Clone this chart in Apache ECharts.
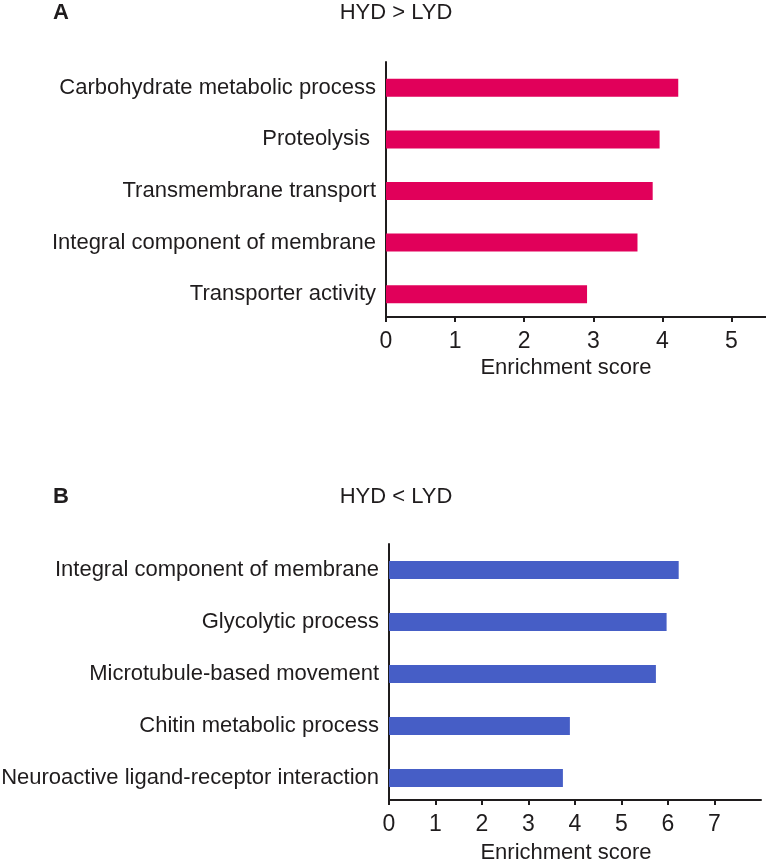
<!DOCTYPE html>
<html>
<head>
<meta charset="utf-8">
<script src="https://cdn.jsdelivr.net/npm/echarts@6/dist/echarts.min.js"></script>
<style>
html,body{margin:0;padding:0;background:#fff;}
#chart{width:766px;height:861px;}
</style>
</head>
<body>
<div id="chart"></div>
<script>
const catsA = ['Carbohydrate metabolic process', 'Proteolysis ', 'Transmembrane transport', 'Integral component of membrane', 'Transporter activity'];
const valsA = [4.23, 3.96, 3.86, 3.64, 2.91];
const ticksA = [0, 1, 2, 3, 4, 5];

const catsB = ['Integral component of membrane', 'Glycolytic process', 'Microtubule-based movement', 'Chitin metabolic process', 'Neuroactive ligand-receptor interaction'];
const valsB = [6.23, 5.97, 5.74, 3.89, 3.74];
const ticksB = [0, 1, 2, 3, 4, 5, 6, 7];

const titleA = 'HYD > LYD';
const titleB = 'HYD < LYD';
const axisName = 'Enrichment score';

const FONT = "'Liberation Sans', Arial, sans-serif";
const INK = '#1f1c1d';
const colorA = '#e1005a';
const colorB = '#465ec6';

const chart = echarts.init(document.getElementById('chart'), null, {renderer: 'canvas'});

function xAx(gi, max, ticks, offset, margin) {
  return {
    type: 'value', gridIndex: gi, min: 0, max: max, interval: 1, offset: offset,
    axisLine: {show: true, lineStyle: {color: INK, width: 2}},
    axisTick: {show: true, length: 5, lineStyle: {color: INK, width: 2}, customValues: ticks},
    axisLabel: {color: INK, fontSize: 23, fontFamily: FONT, margin: margin, customValues: ticks},
    splitLine: {show: false}
  };
}
function yAx(gi, cats, margin) {
  return {
    type: 'category', gridIndex: gi, data: cats, inverse: true,
    axisLine: {show: true, lineStyle: {color: INK, width: 2}},
    axisTick: {show: false},
    axisLabel: {color: INK, fontSize: 22, fontFamily: FONT, margin: margin},
    splitLine: {show: false}
  };
}

chart.setOption({
  backgroundColor: '#ffffff',
  animation: false,
  grid: [
    {left: 386, top: 62, width: 380, height: 258, containLabel: false, outerBoundsMode: 'none'},
    {left: 389, top: 544, width: 372, height: 260, containLabel: false, outerBoundsMode: 'none'}
  ],
  xAxis: [xAx(0, 5.5, ticksA, -3, 13), xAx(1, 8, ticksB, -4, 13)],
  yAxis: [yAx(0, catsA, 10), yAx(1, catsB, 10)],
  series: [
    {type: 'bar', xAxisIndex: 0, yAxisIndex: 0, data: valsA, barWidth: 18, itemStyle: {color: colorA}},
    {type: 'bar', xAxisIndex: 1, yAxisIndex: 1, data: valsB, barWidth: 18, itemStyle: {color: colorB}}
  ],
  graphic: [
    {type: 'text', left: 53, top: 2, style: {text: 'A', font: "bold 22px " + FONT, fill: INK}},
    {type: 'text', x: 396, y: 13, style: {text: titleA, font: "22px " + FONT, fill: INK, textAlign: 'center', textVerticalAlign: 'middle'}},
    {type: 'text', x: 566, y: 368, style: {text: axisName, font: "22px " + FONT, fill: INK, textAlign: 'center', textVerticalAlign: 'middle'}},
    {type: 'text', left: 53, top: 486, style: {text: 'B', font: "bold 22px " + FONT, fill: INK}},
    {type: 'text', x: 396, y: 497, style: {text: titleB, font: "22px " + FONT, fill: INK, textAlign: 'center', textVerticalAlign: 'middle'}},
    {type: 'text', x: 566, y: 853, style: {text: axisName, font: "22px " + FONT, fill: INK, textAlign: 'center', textVerticalAlign: 'middle'}}
  ]
});
</script>
</body>
</html>
